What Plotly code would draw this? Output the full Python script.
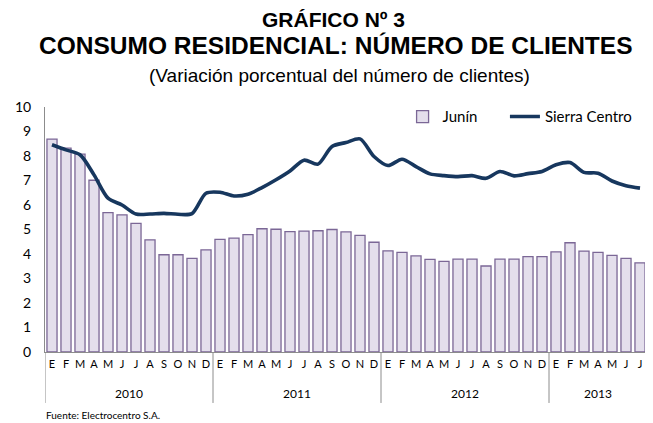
import plotly.graph_objects as go

years = ["2010", "2011", "2012", "2013"]
months_per_year = [12, 12, 12, 7]
month_letters = ["E", "F", "M", "A", "M", "J", "J", "A", "S", "O", "N", "D"]

junin = [8.69, 8.32, 8.08, 7.01, 5.69, 5.60, 5.25, 4.58, 3.97, 3.97, 3.82, 4.17,
         4.60, 4.65, 4.79, 5.03, 5.01, 4.91, 4.93, 4.95, 5.00, 4.90, 4.76, 4.48,
         4.13, 4.07, 3.92, 3.78, 3.70, 3.79, 3.79, 3.51, 3.79, 3.79, 3.89, 3.89,
         4.09, 4.46, 4.12, 4.07, 3.94, 3.82, 3.64]

sierra_centro = [8.46, 8.25, 8.05, 7.23, 6.28, 6.00, 5.63, 5.63, 5.66, 5.62, 5.65, 6.48,
                 6.52, 6.37, 6.44, 6.71, 7.03, 7.39, 7.83, 7.67, 8.39, 8.55, 8.70, 7.98,
                 7.61, 7.87, 7.57, 7.27, 7.20, 7.16, 7.20, 7.09, 7.37, 7.19, 7.28, 7.37,
                 7.64, 7.73, 7.33, 7.30, 6.98, 6.79, 6.69]

y_ticks = list(range(0, 11))

# build category positions
tick_text = []
for n in months_per_year:
    tick_text += month_letters[:n]
x = list(range(len(tick_text)))

BAR_FILL = "#E4DFEC"
BAR_LINE = "#7B6796"
LINE_COL = "#17375E"
AXIS_COL = "#8C8C8C"
TICK_FONT = "Lato, Carlito, Calibri, sans-serif"
TITLE_FONT = "Liberation Sans, Arial, sans-serif"

fig = go.Figure()
fig.add_trace(go.Bar(
    x=x, y=junin, name="Junín", legend="legend",
    marker=dict(color=BAR_FILL, line=dict(color=BAR_LINE, width=1.3)),
))
fig.add_trace(go.Scatter(
    x=x, y=sierra_centro, name="Sierra Centro", mode="lines", legend="legend2",
    line=dict(color=LINE_COL, width=3.6, shape="spline", smoothing=0.8),
))

shapes = []
annotations = []
start = 0
bounds = [-0.5]
for yr, n in zip(years, months_per_year):
    center = start + (n - 1) / 2
    annotations.append(dict(
        x=center, y=0, xref="x", yref="paper", yanchor="top", yshift=-32,
        text=yr, showarrow=False, font=dict(family=TICK_FONT, size=12, color="#000")))
    start += n
    bounds.append(start - 0.5)
for b in bounds:
    shapes.append(dict(type="line", xref="x", yref="paper", x0=b, x1=b, y0=0, y1=-0.208,
                       line=dict(color=AXIS_COL, width=1)))

annotations += [
    dict(x=0.48, y=1.357, xref="paper", yref="paper", text="<b>GRÁFICO Nº 3</b>",
         showarrow=False, yanchor="middle",
         font=dict(family=TITLE_FONT, size=21, color="#000")),
    dict(x=0.482, y=1.252, xref="paper", yref="paper",
         text="<b>CONSUMO RESIDENCIAL: NÚMERO DE CLIENTES</b>",
         showarrow=False, yanchor="middle",
         font=dict(family=TITLE_FONT, size=24.5, color="#000")),
    dict(x=0.49, y=1.128, xref="paper", yref="paper",
         text="(Variación porcentual del número de clientes)",
         showarrow=False, yanchor="middle",
         font=dict(family=TITLE_FONT, size=19, color="#000")),
    dict(x=-0.002, y=-0.225, xref="paper", yref="paper", xanchor="left", yanchor="top",
         text="Fuente: Electrocentro S.A.", showarrow=False,
         font=dict(family=TICK_FONT, size=10, color="#000")),
]

legend_common = dict(orientation="h", y=0.96, xanchor="left", yanchor="middle",
                     font=dict(family=TICK_FONT, size=15, color="#000"),
                     bgcolor="rgba(0,0,0,0)", itemwidth=30)

# the page body adds an 8px offset, so the figure is 8px smaller on each side
fig.update_layout(
    width=645, height=415,
    margin=dict(l=37, r=6, t=99, b=71, autoexpand=False),
    paper_bgcolor="white", plot_bgcolor="white",
    bargap=0.28,
    showlegend=True,
    legend=dict(x=0.594, **legend_common),
    legend2=dict(x=0.764, **legend_common),
    shapes=shapes,
    annotations=annotations,
)
fig.update_xaxes(
    range=[-0.5, len(x) - 0.5],
    tickmode="array", tickvals=x, ticktext=tick_text,
    tickfont=dict(family=TICK_FONT, size=11, color="#000"),
    showgrid=False, zeroline=False,
    showline=True, linecolor=AXIS_COL, linewidth=1,
    ticks="", ticklabelstandoff=2,
)
fig.update_yaxes(
    range=[0, 10], tickmode="array", tickvals=y_ticks,
    tickfont=dict(family=TICK_FONT, size=14, color="#000"),
    showgrid=False, zeroline=False,
    showline=True, linecolor=AXIS_COL, linewidth=1,
    ticks="", ticklabelstandoff=10,
)

fig.write_html("out.html")
